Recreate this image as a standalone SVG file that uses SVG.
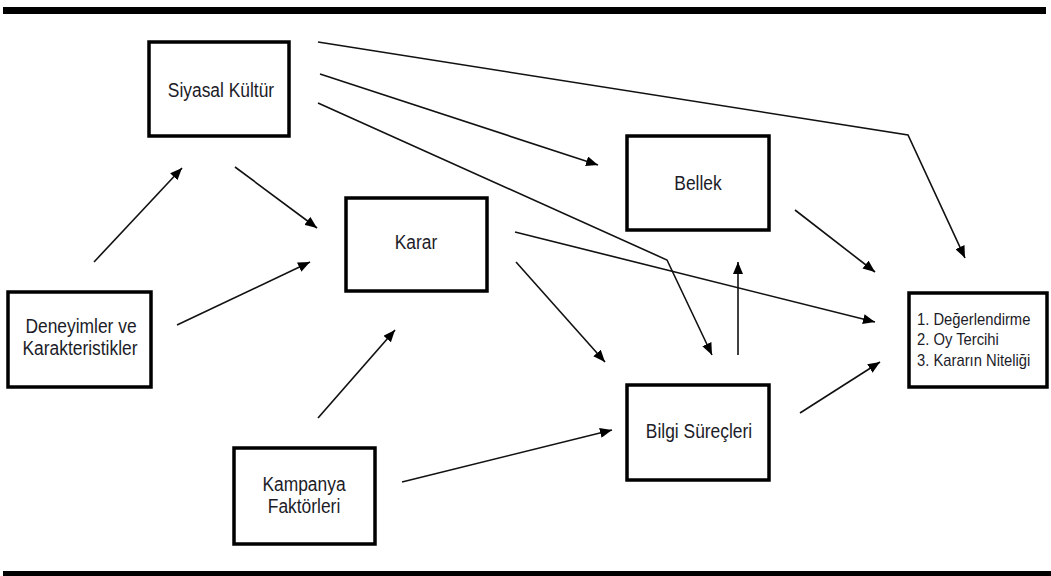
<svg xmlns="http://www.w3.org/2000/svg" width="1051" height="576" viewBox="0 0 1051 576">
<defs>
<marker id="ah" viewBox="0 0 12 10" refX="12" refY="5" markerWidth="12" markerHeight="10" markerUnits="userSpaceOnUse" orient="auto">
<path d="M0,0 L12,5 L0,10 z" fill="#000"/>
</marker>
<style>
.box{fill:#fff;stroke:#000;stroke-width:3.5}
.t{font-family:"Liberation Sans",Arial,sans-serif;font-size:20px;fill:#1c1c28;text-anchor:middle}
.tl{font-family:"Liberation Sans",Arial,sans-serif;font-size:17px;fill:#1c1c28}
.c{fill:none;stroke:#111;stroke-width:1.6;marker-end:url(#ah)}
</style>
</defs>
<rect x="0" y="0" width="1051" height="576" fill="#fff"/>
<rect x="3" y="7" width="1043" height="7" fill="#000"/>
<rect x="3" y="571" width="1048" height="6" fill="#000"/>
<g id="connectors">
<line class="c" x1="94" y1="262" x2="182" y2="168"/>
<line class="c" x1="177" y1="325" x2="310" y2="262"/>
<line class="c" x1="235" y1="167" x2="317" y2="228"/>
<line class="c" x1="318" y1="418" x2="395" y2="330"/>
<line class="c" x1="402" y1="482" x2="612" y2="430"/>
<line class="c" x1="516" y1="262" x2="605" y2="362"/>
<line class="c" x1="515" y1="232" x2="875" y2="322"/>
<line class="c" x1="320" y1="74" x2="598" y2="165"/>
<polyline class="c" points="318,103 667,260 712,355"/>
<polyline class="c" points="318,42 908,135 965,258"/>
<line class="c" x1="738" y1="355" x2="738" y2="262"/>
<line class="c" x1="795" y1="210" x2="875" y2="272"/>
<line class="c" x1="800" y1="413" x2="880" y2="362"/>
</g>
<g id="siyasal">
<rect class="box" x="149" y="42" width="140" height="94"/>
<text class="t" transform="translate(221,97) scale(0.87,1)">Siyasal Kültür</text>
</g>
<g id="deneyimler">
<rect class="box" x="8" y="292" width="143" height="95"/>
<text class="t" transform="translate(81,333) scale(0.87,1)">Deneyimler ve</text>
<text class="t" transform="translate(80,355) scale(0.87,1)">Karakteristikler</text>
</g>
<g id="karar">
<rect class="box" x="346" y="198" width="141" height="93"/>
<text class="t" transform="translate(416,249) scale(0.87,1)">Karar</text>
</g>
<g id="bellek">
<rect class="box" x="627" y="136" width="142" height="94"/>
<text class="t" transform="translate(698,190) scale(0.87,1)">Bellek</text>
</g>
<g id="bilgi">
<rect class="box" x="627" y="385" width="142" height="95"/>
<text class="t" transform="translate(699,438) scale(0.87,1)">Bilgi Süreçleri</text>
</g>
<g id="kampanya">
<rect class="box" x="234" y="448" width="141" height="96"/>
<text class="t" transform="translate(304,491) scale(0.87,1)">Kampanya</text>
<text class="t" transform="translate(304,513) scale(0.87,1)">Faktörleri</text>
</g>
<g id="sonuc">
<rect class="box" x="909" y="293" width="138" height="94"/>
<text class="tl" transform="translate(917,325) scale(0.87,1)">1. Değerlendirme</text>
<text class="tl" transform="translate(917,345) scale(0.87,1)">2. Oy Tercihi</text>
<text class="tl" transform="translate(917,366) scale(0.87,1)">3. Kararın Niteliği</text>
</g>
</svg>
